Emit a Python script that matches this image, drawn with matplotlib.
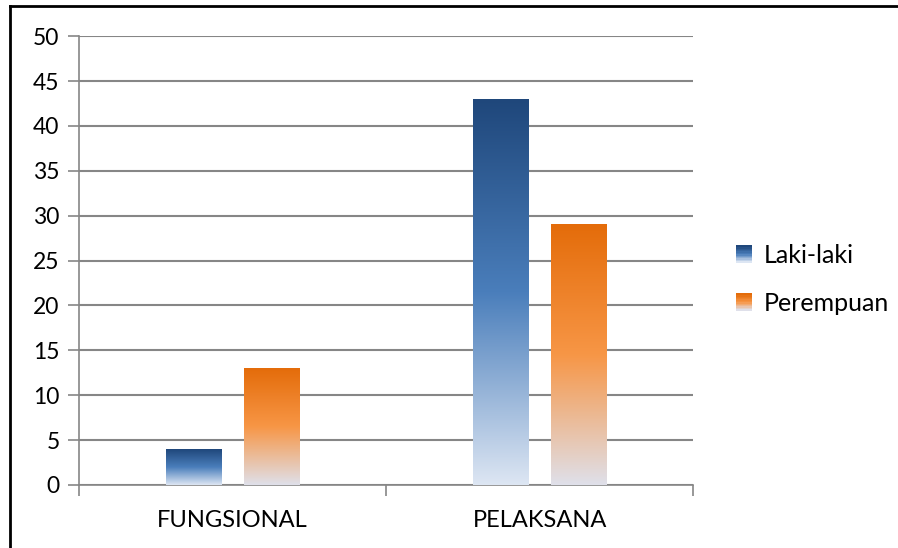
import matplotlib
matplotlib.use("Agg")
import matplotlib.pyplot as plt
import numpy as np
from matplotlib.colors import LinearSegmentedColormap
from matplotlib.patches import Rectangle
from matplotlib.lines import Line2D
from matplotlib.legend_handler import HandlerBase

categories = ["FUNGSIONAL", "PELAKSANA"]
series_names = ["Laki-laki", "Perempuan"]
laki = [4, 43]
perempuan = [13, 29]
yticks = [0, 5, 10, 15, 20, 25, 30, 35, 40, 45, 50]

plt.rcParams['font.family'] = ['Lato', 'DejaVu Sans']

cmaps = [
    LinearSegmentedColormap.from_list("blue", [(0, '#dde6f3'), (0.5, '#4a7ebb'), (1, '#1f477b')]),
    LinearSegmentedColormap.from_list("orange", [(0, '#dfe0ea'), (0.5, '#f79646'), (1, '#e46c0a')]),
]

fig = plt.figure(figsize=(8.98, 5.48), dpi=100)
ax = fig.add_axes([0.088, 0.115, 0.684, 0.819])

x = np.arange(len(categories))
width = 0.182
offsets = [-0.127, 0.127]
grad = np.linspace(0, 1, 256).reshape(-1, 1)

for vals, off, cm in zip([laki, perempuan], offsets, cmaps):
    bars = ax.bar(x + off, vals, width, color='none', edgecolor='none', zorder=3)
    for b in bars:
        x0, y0 = b.get_x(), b.get_y()
        w, h = b.get_width(), b.get_height()
        ax.imshow(grad, cmap=cm, origin='lower', aspect='auto',
                  extent=[x0, x0 + w, y0, y0 + h], zorder=3, interpolation='bilinear')

ax.set_xlim(-0.5, 1.5)
ax.set_ylim(0, 50)
ax.set_yticks(yticks)
ax.set_yticklabels([str(t) for t in yticks], fontsize=16.5)
ax.set_xticks(x)
ax.set_xticklabels(categories, fontsize=17)
ax.set_xticks([-0.5, 0.5, 1.5], minor=True)
ax.tick_params(axis='x', which='major', length=0, pad=18)
ax.tick_params(axis='x', which='minor', length=8, width=1.2, color='#868686', direction='out')
ax.tick_params(axis='y', length=8, width=1.2, color='#868686', direction='out', pad=6)
ax.grid(axis='y', color='#868686', linewidth=1.5, zorder=0)
ax.set_axisbelow(True)
for s in ['top', 'right']:
    ax.spines[s].set_visible(False)
for s in ['left', 'bottom']:
    ax.spines[s].set_color('#868686')
    ax.spines[s].set_linewidth(1.2)


class GradHandler(HandlerBase):
    def __init__(self, cmap):
        super().__init__()
        self.cmap = cmap

    def create_artists(self, legend, orig_handle, xdescent, ydescent, width, height, fontsize, trans):
        n = 12
        size = 12
        x0 = -xdescent + (width - size)
        y0 = -ydescent + (height - size) / 2
        arts = []
        for i in range(n):
            r = Rectangle((x0, y0 + size * i / n), size, size / n + 0.3,
                          facecolor=self.cmap(i / (n - 1)), edgecolor='none', transform=trans)
            arts.append(r)
        return arts


h1 = Rectangle((0, 0), 1, 1)
h2 = Rectangle((0, 0), 1, 1)
fig.legend([h1, h2], series_names,
           handler_map={h1: GradHandler(cmaps[0]), h2: GradHandler(cmaps[1])},
           loc='center left', bbox_to_anchor=(0.817, 0.49), frameon=False,
           fontsize=18, labelspacing=1.0, handlelength=0.75, handletextpad=0.45,
           borderaxespad=0, borderpad=0)

# outer border (top and left visible)
fig.add_artist(Line2D([9.5 / 898, 1.0], [1 - 6 / 548, 1 - 6 / 548], color='black', linewidth=2,
                      transform=fig.transFigure))
fig.add_artist(Line2D([9.5 / 898, 9.5 / 898], [0, 1 - 6 / 548], color='black', linewidth=2,
                      transform=fig.transFigure))

fig.savefig("out.png", dpi=100)
